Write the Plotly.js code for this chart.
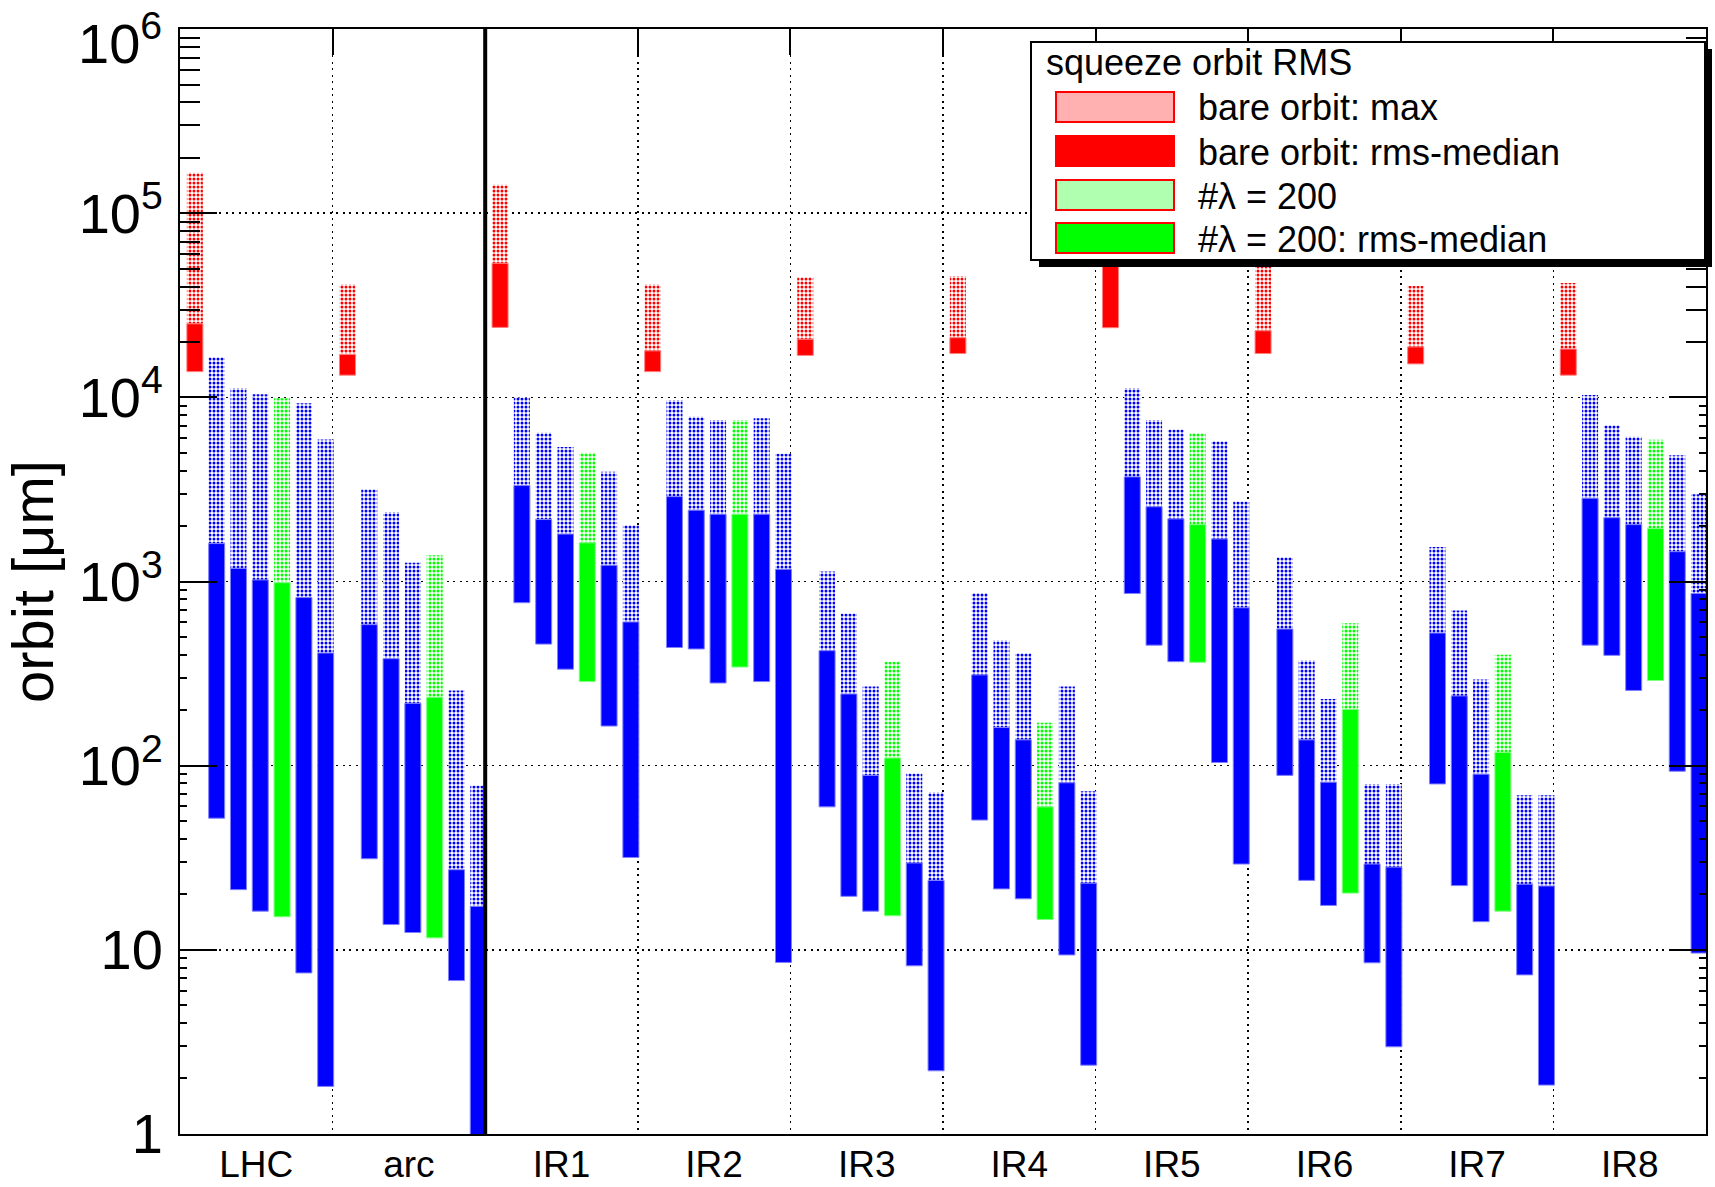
<!DOCTYPE html>
<html><head><meta charset="utf-8">
<script src="https://cdn.plot.ly/plotly-3.0.1.min.js"></script>
<style>html,body{margin:0;padding:0;background:#fff}#chart{width:1715px;height:1187px}</style>
</head><body><div id="chart"></div>
<script>
// ---------------- data ----------------
const groups = ['LHC','arc','IR1','IR2','IR3','IR4','IR5','IR6','IR7','IR8'];

// bare orbit (red): max, rms-median upper and lower edge
const bareMax          = [1.66e5, 4.1e4, 1.43e5, 4.1e4, 4.49e4, 4.56e4, 1.5e5, 6.5e4, 4.03e4, 4.18e4];
const bareMedianTop    = [2.51e4, 1.71e4, 5.35e4, 1.79e4, 2.07e4, 2.11e4, 6.0e4, 2.30e4, 1.88e4, 1.83e4];
const bareMedianBottom = [1.38e4, 1.32e4, 2.40e4, 1.38e4, 1.69e4, 1.73e4, 2.39e4, 1.73e4, 1.52e4, 1.32e4];

// six corrected settings per group; index 3 is "#λ = 200" (green)
const lambdaIndex = 3;
const corrMax = [
  [1.65e4, 1.12e4, 1.04e4, 9.9e3, 9.3e3, 5.9e3],
  [3170, 2380, 1265, 1390, 256, 78],
  [1.0e4, 6430, 5380, 5010, 3945, 2020],
  [9660, 7850, 7530, 7530, 7710, 4940],
  [1132, 670, 269, 367, 90.5, 71.4],
  [867, 478, 408, 171, 269, 72.5],
  [1.12e4, 7530, 6700, 6410, 5770, 2717],
  [1355, 372, 230, 593, 79.5, 79.5],
  [1540, 695, 294, 400, 69, 69],
  [1.03e4, 7050, 6105, 5890, 4855, 2980]
];
const corrMedianTop = [
  [1607, 1178, 1020, 985, 818, 409],
  [583, 381, 218, 235, 27.2, 17.2],
  [3320, 2170, 1810, 1622, 1225, 603],
  [2890, 2440, 2320, 2320, 2320, 1165],
  [421, 245, 88.5, 110, 29.6, 23.8],
  [311, 161, 138, 59.7, 80.7, 23.0],
  [3700, 2547, 2188, 2037, 1703, 720],
  [552, 138, 81.3, 202, 29.2, 28.1],
  [525, 239, 89.9, 118, 22.7, 22.2],
  [2835, 2221, 2037, 1937, 1452, 861]
];
const corrMedianBottom = [
  [51.8, 21.2, 16.2, 15.1, 7.48, 1.81],
  [31.2, 13.7, 12.4, 11.6, 6.8, 0.9],
  [767, 457, 334, 286, 164, 31.7],
  [438, 430, 281, 343, 286, 8.53],
  [59.7, 19.5, 16.2, 15.3, 8.18, 2.20],
  [50.6, 21.4, 18.9, 14.6, 9.37, 2.36],
  [861, 451, 367, 364, 104, 29.2],
  [88.5, 23.8, 17.4, 20.3, 8.49, 2.97],
  [79.5, 22.3, 14.2, 16.2, 7.3, 1.84],
  [451, 397, 256, 290, 93.2, 9.59]
];

const yTickVals   = [1, 10, 100, 1e3, 1e4, 1e5, 1e6];
const yTickLabels = ['1', '10', '10<sup>2</sup>', '10<sup>3</sup>', '10<sup>4</sup>', '10<sup>5</sup>', ''];
const yTopLabel   = '10<sup>6</sup>';
const legendTitle = 'squeeze orbit RMS';
const legendLabels = ['bare orbit: max', 'bare orbit: rms-median', '#λ = 200', '#λ = 200: rms-median'];

// ---------------- styling helpers ----------------
const BAR_W = 0.105;
function slotX(g, slot) { return g + (slot + 0.5) / 7 + 0.026; }
function dotted(col) {
  return {color: col, pattern: {shape: '.', fgcolor: col, bgcolor: 'white', size: 4, solidity: 0.45, fillmode: 'replace'}, line: {width: 0}};
}
function solid(col, edge) { return {color: col, line: {color: edge, width: 1}}; }

const traces = [];
function corrTrace(isLambda, part) {
  const x = [], base = [], y = [];
  groups.forEach((_, g) => {
    corrMax[g].forEach((mx, k) => {
      if ((k === lambdaIndex) !== isLambda) return;
      x.push(slotX(g, k + 1));
      if (part === 'max') { base.push(corrMedianTop[g][k]); y.push(mx - corrMedianTop[g][k]); }
      else { base.push(corrMedianBottom[g][k]); y.push(corrMedianTop[g][k] - corrMedianBottom[g][k]); }
    });
  });
  const col = isLambda ? '#00ff00' : '#0000ff';
  const edge = isLambda ? '#80ff80' : '#8080ff';
  return {type: 'bar', x, base, y, width: BAR_W, marker: part === 'max' ? dotted(col) : solid(col, edge), hoverinfo: 'skip'};
}
traces.push(corrTrace(false, 'max'), corrTrace(false, 'med'), corrTrace(true, 'max'), corrTrace(true, 'med'));
// bare orbit (on the overlaid axis pair that carries the top ticks / group grid)
traces.push({type: 'bar', xaxis: 'x2', yaxis: 'y2', x: groups.map((_, g) => slotX(g, 0)), base: bareMedianTop,
  y: bareMax.map((v, g) => v - bareMedianTop[g]), width: BAR_W, marker: dotted('#ff0000'), hoverinfo: 'skip'});
traces.push({type: 'bar', xaxis: 'x2', yaxis: 'y2', x: groups.map((_, g) => slotX(g, 0)), base: bareMedianBottom,
  y: bareMedianTop.map((v, g) => v - bareMedianBottom[g]), width: BAR_W, marker: solid('#ff0000', '#ff8080'), hoverinfo: 'skip'});

// ---------------- axes ----------------
const centers = groups.map((_, g) => g + 0.5);
const bounds = groups.slice(1).map((_, i) => i + 1);
const minorLow = [], minorHigh = [];
for (let e = 0; e < 6; e++) for (let m = 2; m <= 9; m++) (e < 4 ? minorLow : minorHigh).push(m * Math.pow(10, e));
const YR = [-0.0008, 6.0008];

// ---------------- legend box (paper coords from pixel layout) ----------------
const PL = 180, PR = 1706, PT = 29, PB = 1134;
const px = v => (v - PL) / (PR - PL);
const py = v => (PB - v) / (PB - PT);
const shapes = [
  {type: 'line', xref: 'x', yref: 'paper', x0: 2, x1: 2, y0: 0, y1: 1, line: {color: 'black', width: 4}, layer: 'above'},
  {type: 'rect', xref: 'paper', yref: 'paper', x0: px(1039), x1: px(1712), y0: py(267), y1: py(49), fillcolor: 'black', line: {width: 0}, layer: 'above'},
  {type: 'rect', xref: 'paper', yref: 'paper', x0: px(1031), x1: px(1705), y0: py(260), y1: py(42), fillcolor: 'white', line: {color: 'black', width: 2}, layer: 'above'}
];
const rowY = [107, 151, 195, 238];
const swFill = ['#ffb0b0', '#ff0000', '#b0ffb0', '#00ff00'];
const annotations = [
  {xref: 'paper', yref: 'paper', x: px(164), y: py(40), xanchor: 'right', yanchor: 'middle',
    text: yTopLabel, showarrow: false, font: {size: 56, color: 'black'}},
  {xref: 'paper', yref: 'paper', x: px(1044), y: py(62), xanchor: 'left', yanchor: 'middle',
    text: legendTitle, showarrow: false, font: {size: 36, color: 'black'}}
];
rowY.forEach((r, i) => {
  shapes.push({type: 'rect', xref: 'paper', yref: 'paper', x0: px(1056), x1: px(1174), y0: py(r + 15), y1: py(r - 15),
    fillcolor: swFill[i], line: {color: '#ff0000', width: 2}, layer: 'above'});
  annotations.push({xref: 'paper', yref: 'paper', x: px(1196), y: py(r + 1), xanchor: 'left', yanchor: 'middle',
    text: legendLabels[i], showarrow: false, font: {size: 36, color: 'black'}});
});

const GRID = {showgrid: true, griddash: '2px,4.5px', gridcolor: 'black', gridwidth: 1.6};
const layout = {
  width: 1715, height: 1187,
  margin: {l: PL, r: 1715 - PR, t: PT, b: 1187 - PB},
  paper_bgcolor: 'white', plot_bgcolor: 'white',
  barmode: 'overlay', showlegend: false,
  font: {family: 'Liberation Sans, Arial, sans-serif', color: 'black'},
  xaxis: {range: [0, 10], tickmode: 'array', tickvals: centers, ticktext: groups, ticks: '',
    showgrid: false, zeroline: false, showline: true, linecolor: 'black', linewidth: 2, mirror: true,
    tickfont: {size: 37}, ticklabelstandoff: -3, fixedrange: true},
  xaxis2: Object.assign({overlaying: 'x', anchor: 'y2', side: 'top', range: [0, 10], tickmode: 'array', tickvals: bounds,
    ticks: 'inside', ticklen: 26, tickwidth: 2, tickcolor: 'black', showticklabels: false,
    zeroline: false, showline: false}, GRID),
  yaxis: Object.assign({type: 'log', range: YR, tickmode: 'array', tickvals: yTickVals, ticktext: yTickLabels,
    ticks: 'inside', ticklen: 37, tickwidth: 2, tickcolor: 'black', mirror: 'allticks',
    showline: true, linecolor: 'black', linewidth: 2, zeroline: false,
    minor: {tickmode: 'array', tickvals: minorLow, ticks: 'inside', ticklen: 7, tickwidth: 2, tickcolor: 'black', showgrid: false},
    tickfont: {size: 56}, ticklabelstandoff: 4,
    title: {text: 'orbit [μm]', font: {size: 58}, standoff: 18}}, GRID),
  yaxis2: {type: 'log', overlaying: 'y', anchor: 'x2', side: 'left', range: YR, tickmode: 'array', tickvals: minorHigh,
    ticks: 'inside', ticklen: 20, tickwidth: 2, tickcolor: 'black', mirror: 'allticks', showticklabels: false,
    showline: false, showgrid: false, zeroline: false},
  shapes, annotations
};

Plotly.newPlot('chart', traces, layout, {staticPlot: true});
</script></body></html>
